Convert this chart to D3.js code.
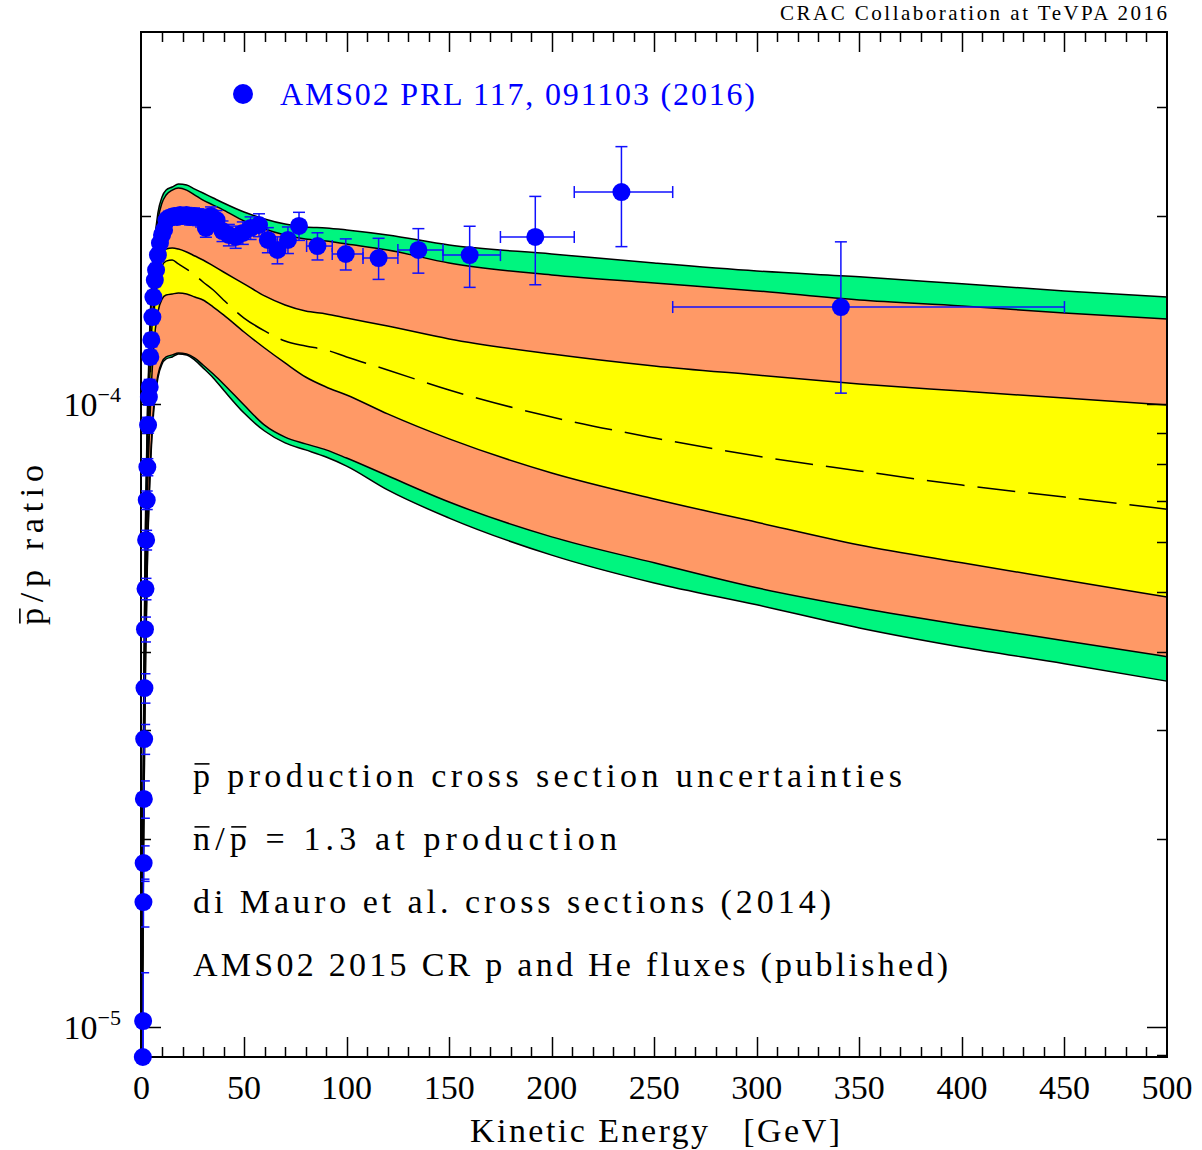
<!DOCTYPE html>
<html>
<head>
<meta charset="utf-8">
<script src="https://cdn.jsdelivr.net/npm/d3@7"></script>
<style>
  body { margin: 0; background: #fff; }
  text { font-family: 'Liberation Serif', 'DejaVu Serif', serif; fill: #000; }
</style>
</head>
<body>
<script>
// model curves, p̄/p ratio in units of 1e-4
const gridE = [0.3, 0.7, 1, 1.5, 2, 3, 4, 5, 6, 8, 10, 12, 15, 18, 22, 26, 30, 35, 40, 50,
  60, 70, 80, 90, 100, 120, 150, 200, 250, 300, 350, 400, 450, 500];

const maxOuter = [0.103, 0.215, 0.311, 0.485, 0.676, 1.015, 1.314, 1.564, 1.767, 2.026, 2.149, 2.205, 2.230, 2.255, 2.246, 2.213, 2.181, 2.141, 2.102, 2.033,
  1.982, 1.945, 1.924, 1.917, 1.903, 1.868, 1.800, 1.741, 1.684, 1.635, 1.600, 1.559, 1.519, 1.485];
const maxInner = [0.101, 0.200, 0.289, 0.450, 0.639, 0.978, 1.267, 1.524, 1.715, 1.974, 2.102, 2.165, 2.205, 2.222, 2.205, 2.165, 2.125, 2.086, 2.048, 1.967,
  1.910, 1.868, 1.840, 1.826, 1.806, 1.767, 1.684, 1.611, 1.564, 1.519, 1.469, 1.437, 1.400, 1.369];
const bandTop = [0.099, 0.185, 0.259, 0.403, 0.562, 0.844, 1.093, 1.314, 1.469, 1.654, 1.741, 1.773, 1.780, 1.773, 1.754, 1.728, 1.703, 1.666, 1.629, 1.559,
  1.491, 1.442, 1.410, 1.395, 1.374, 1.334, 1.272, 1.203, 1.151, 1.113, 1.077, 1.049, 1.022, 0.996];
const median = [0.097, 0.179, 0.245, 0.381, 0.532, 0.798, 1.034, 1.244, 1.390, 1.581, 1.666, 1.696, 1.703, 1.678, 1.647, 1.611, 1.570, 1.524, 1.469, 1.374,
  1.310, 1.262, 1.239, 1.221, 1.190, 1.134, 1.053, 0.953, 0.882, 0.825, 0.781, 0.741, 0.709, 0.678];
const bandBottom = [0.095, 0.166, 0.227, 0.348, 0.485, 0.728, 0.925, 1.101, 1.244, 1.405, 1.474, 1.496, 1.502, 1.507, 1.502, 1.485, 1.469, 1.431, 1.390, 1.305,
  1.230, 1.164, 1.105, 1.065, 1.034, 0.964, 0.879, 0.775, 0.704, 0.646, 0.594, 0.556, 0.522, 0.490];
const minInner = [0.092, 0.143, 0.192, 0.289, 0.396, 0.594, 0.755, 0.892, 0.996, 1.113, 1.168, 1.190, 1.199, 1.207, 1.203, 1.185, 1.155, 1.117, 1.077, 0.996,
  0.925, 0.885, 0.863, 0.844, 0.819, 0.767, 0.696, 0.612, 0.556, 0.507, 0.471, 0.442, 0.417, 0.393];
const minOuter = [0.090, 0.141, 0.189, 0.284, 0.388, 0.583, 0.741, 0.875, 0.978, 1.101, 1.159, 1.181, 1.190, 1.203, 1.199, 1.176, 1.143, 1.101, 1.053, 0.967,
  0.905, 0.866, 0.844, 0.822, 0.795, 0.728, 0.656, 0.572, 0.516, 0.476, 0.437, 0.407, 0.383, 0.359];

// AMS-02 points (units of 1e-4)
const amsE = [0.65, 0.8, 0.95, 1.05, 1.15, 1.3, 1.45, 1.7, 1.95, 2.25, 2.55, 2.85, 3.2, 3.6, 4.0, 4.3, 4.8, 5.3, 5.8, 6.5,
  7.1, 8.0, 9.0, 10.0, 11.0, 12.2, 13.4, 14.6, 15.9, 17.3, 18.8, 20.3, 21.9, 23.7, 25.6, 27.6, 29.0, 31.4, 33.9, 36.6,
  39.5, 42.6, 45.9, 49.4, 53.2, 57.3, 61.6, 66.3, 71.4, 76.8, 85.8, 99.6, 115.6, 135, 160, 192, 234, 341];
const amsRatio = [0.0895, 0.1022, 0.1587, 0.1833, 0.2323, 0.2899, 0.350, 0.435, 0.505, 0.605, 0.701, 0.792, 0.925, 1.026, 1.065, 1.190, 1.267, 1.379, 1.485, 1.581,
  1.641, 1.734, 1.813, 1.868, 1.903, 1.974, 1.989, 1.996, 2.004, 1.996, 2.011, 2.004, 2.011, 1.996, 2.004, 1.996, 1.989, 1.917, 2.004, 1.974,
  1.895, 1.868, 1.854, 1.882, 1.917, 1.938, 1.834, 1.767, 1.834, 1.931, 1.793, 1.741, 1.715, 1.767, 1.734, 1.854, 2.189, 1.431];
const amsErr = [0.015, 0.02, 0.014, 0.012, 0.016, 0.016, 0.019, 0.02, 0.02, 0.022, 0.024, 0.025, 0.027, 0.03, 0.03, 0.03, 0.032, 0.034, 0.036, 0.038,
  0.04, 0.042, 0.045, 0.048, 0.05, 0.05, 0.05, 0.05, 0.05, 0.052, 0.053, 0.055, 0.056, 0.058, 0.06, 0.062, 0.065, 0.065, 0.068, 0.07,
  0.072, 0.074, 0.076, 0.078, 0.08, 0.082, 0.085, 0.088, 0.09, 0.10, 0.09, 0.10, 0.13, 0.145, 0.195, 0.30, 0.40, 0.39];
// energy bins of the last points (the others are hidden under the markers)
const binLo = [80.5, 93, 108, 125, 147, 175, 211, 259];
const binHi = [93, 108, 125, 147, 175, 211, 259, 450];

const xTicksMajor = [0, 50, 100, 150, 200, 250, 300, 350, 400, 450, 500];
const yTicksMajor = [0.1, 1];
const yTickExp = ['\u22125', '\u22124'];
const notes = [
  'p production cross section uncertainties',
  'n/p = 1.3 at production',
  'di Mauro et al. cross sections (2014)',
  'AMS02 2015 CR p and He fluxes (published)'
];
const noteBars = [[0], [0, 2], [], []];
const noteWidths = [709, 424, 638, 755];

const W = 1202, H = 1150;
const padL = 141, padR = 1167, padT = 32, padB = 1057;
const FS = 34;

const svg = d3.select('body').append('svg')
    .attr('width', W)
    .attr('height', H);

svg.append('clipPath').attr('id', 'frame')
    .append('rect')
    .attr('x', padL).attr('y', padT)
    .attr('width', padR - padL).attr('height', padB - padT);

const x = d3.scaleLinear().domain([0, 500]).range([padL + 0.5, padR]);
const y = d3.scaleLog().domain([0.0895, 3.955]).range([padB, padT]);

const green = '#00f57f', orange = '#ff9966', yellow = '#ffff00', blue = '#0000ff';

function band(lo, hi, color) {
    const area = d3.area()
        .x((d, i) => x(gridE[i]))
        .y0(d => y(d[0]))
        .y1(d => y(d[1]))
        .curve(d3.curveMonotoneX);
    svg.append('path')
        .datum(d3.zip(lo, hi))
        .attr('d', area)
        .attr('fill', color);
}

band(minOuter, maxOuter, green);
band(minInner, maxInner, orange);
band(bandBottom, bandTop, yellow);

const line = d3.line()
    .x((d, i) => x(gridE[i]))
    .y(d => y(d))
    .curve(d3.curveMonotoneX);

[maxOuter, maxInner, bandTop, bandBottom, minInner, minOuter].forEach(c => {
    svg.append('path')
        .datum(c)
        .attr('d', line)
        .attr('fill', 'none')
        .attr('stroke', '#000')
        .attr('stroke-width', 1.5);
});
svg.append('path')
    .datum(median)
    .attr('d', line)
    .attr('fill', 'none')
    .attr('stroke', '#000')
    .attr('stroke-width', 1.5)
    .attr('stroke-dasharray', '38,13');

// frame and ticks
const axes = svg.append('g').attr('stroke', '#000');
axes.append('rect')
    .attr('x', padL).attr('y', padT)
    .attr('width', padR - padL).attr('height', padB - padT)
    .attr('fill', 'none')
    .attr('stroke-width', 2);

d3.range(10, 500, 10).forEach(v => {
    const len = v % 50 === 0 ? 20 : 10;
    const px = Math.round(x(v)) + 0.5;
    axes.append('line').attr('x1', px).attr('x2', px).attr('y1', padB).attr('y2', padB - len).attr('stroke-width', 1.5);
    axes.append('line').attr('x1', px).attr('x2', px).attr('y1', padT).attr('y2', padT + len).attr('stroke-width', 1.5);
});

const yMinor = [];
[-2, -1, 0].forEach(d => {
    for (let m = 1; m <= 9; m++) {
        const v = m * Math.pow(10, d);
        if (v >= y.domain()[0] && v <= y.domain()[1]) yMinor.push(v);
    }
});
yMinor.forEach(v => {
    const len = yTicksMajor.some(t => Math.abs(t - v) < 1e-9) ? 20 : 10;
    const py = Math.round(y(v)) + 0.5;
    axes.append('line').attr('x1', padL).attr('x2', padL + len).attr('y1', py).attr('y2', py).attr('stroke-width', 1.5);
    axes.append('line').attr('x1', padR).attr('x2', padR - len).attr('y1', py).attr('y2', py).attr('stroke-width', 1.5);
});

// tick labels
svg.append('g').selectAll('text')
    .data(xTicksMajor)
    .enter()
    .append('text')
    .attr('x', d => x(d))
    .attr('y', 1099)
    .attr('text-anchor', 'middle')
    .attr('font-size', FS)
    .text(d => d);

yTicksMajor.forEach((v, i) => {
    const t = svg.append('text')
        .attr('x', 121)
        .attr('y', y(v) + 12)
        .attr('text-anchor', 'end')
        .attr('font-size', FS);
    t.append('tspan').text('10');
    t.append('tspan').attr('font-size', 22).attr('dy', -14).text(yTickExp[i]);
});

// overline above a character of a text element
function overline(textSel, idx, parent, baseY, fs) {
    const ext = textSel.node().getExtentOfChar(idx);
    parent.append('line')
        .attr('x1', ext.x + 1.5)
        .attr('x2', ext.x + ext.width - 0.5)
        .attr('y1', baseY - fs * 0.68)
        .attr('y2', baseY - fs * 0.68)
        .attr('stroke', '#000')
        .attr('stroke-width', 1.6);
}

svg.append('text')
    .attr('x', 470)
    .attr('y', 1142)
    .attr('font-size', FS)
    .attr('textLength', 370)
    .attr('lengthAdjust', 'spacing')
    .style('white-space', 'pre')
    .text('Kinetic Energy   [GeV]');

const yLab = svg.append('g').attr('transform', 'translate(43,545) rotate(-90)');
const yLabText = yLab.append('text')
    .attr('x', -80)
    .attr('y', 0)
    .attr('font-size', FS)
    .attr('textLength', 160)
    .attr('lengthAdjust', 'spacing')
    .text('p/p ratio');
overline(yLabText, 0, yLab, 0, FS);

svg.append('text')
    .attr('x', 1167)
    .attr('y', 20)
    .attr('text-anchor', 'end')
    .attr('font-size', 21)
    .attr('textLength', 387)
    .attr('lengthAdjust', 'spacing')
    .text('CRAC Collaboration at TeVPA 2016');

// annotations
notes.forEach((s, i) => {
    const by = 787 + i * 63;
    const t = svg.append('text')
        .attr('x', 193)
        .attr('y', by)
        .attr('font-size', FS)
        .attr('textLength', noteWidths[i])
        .attr('lengthAdjust', 'spacing')
        .text(s);
    noteBars[i].forEach(k => overline(t, k, svg, by, FS));
});

// legend
svg.append('circle').attr('cx', 243).attr('cy', 94).attr('r', 10).attr('fill', blue);
svg.append('text')
    .attr('x', 280)
    .attr('y', 105)
    .attr('font-size', 32)
    .attr('textLength', 475)
    .attr('lengthAdjust', 'spacing')
    .style('fill', blue)
    .text('AMS02 PRL 117, 091103 (2016)');

// data with error bars
const nBins = binLo.length;
const pts = amsE.map((e, i) => {
    const k = i - (amsE.length - nBins);
    return { e: e, v: amsRatio[i], err: amsErr[i], lo: k >= 0 ? binLo[k] : null, hi: k >= 0 ? binHi[k] : null };
});

const errs = svg.append('g')
    .attr('clip-path', 'url(#frame)')
    .attr('stroke', '#1010ff')
    .attr('stroke-width', 1.5);
pts.forEach(p => {
    const px = x(p.e);
    const y1 = y(p.v + p.err), y2 = y(p.v - p.err);
    errs.append('line').attr('x1', px).attr('x2', px).attr('y1', y1).attr('y2', y2);
    errs.append('line').attr('x1', px - 6).attr('x2', px + 6).attr('y1', y1).attr('y2', y1);
    errs.append('line').attr('x1', px - 6).attr('x2', px + 6).attr('y1', y2).attr('y2', y2);
    if (p.lo !== null) {
        const py = y(p.v);
        errs.append('line').attr('x1', x(p.lo)).attr('x2', x(p.hi)).attr('y1', py).attr('y2', py);
        errs.append('line').attr('x1', x(p.lo)).attr('x2', x(p.lo)).attr('y1', py - 6).attr('y2', py + 6);
        errs.append('line').attr('x1', x(p.hi)).attr('x2', x(p.hi)).attr('y1', py - 6).attr('y2', py + 6);
    }
});

svg.append('g').selectAll('circle')
    .data(pts)
    .enter()
    .append('circle')
    .attr('cx', d => x(d.e))
    .attr('cy', d => y(d.v))
    .attr('r', 9)
    .attr('fill', blue);
</script>
</body>
</html>
